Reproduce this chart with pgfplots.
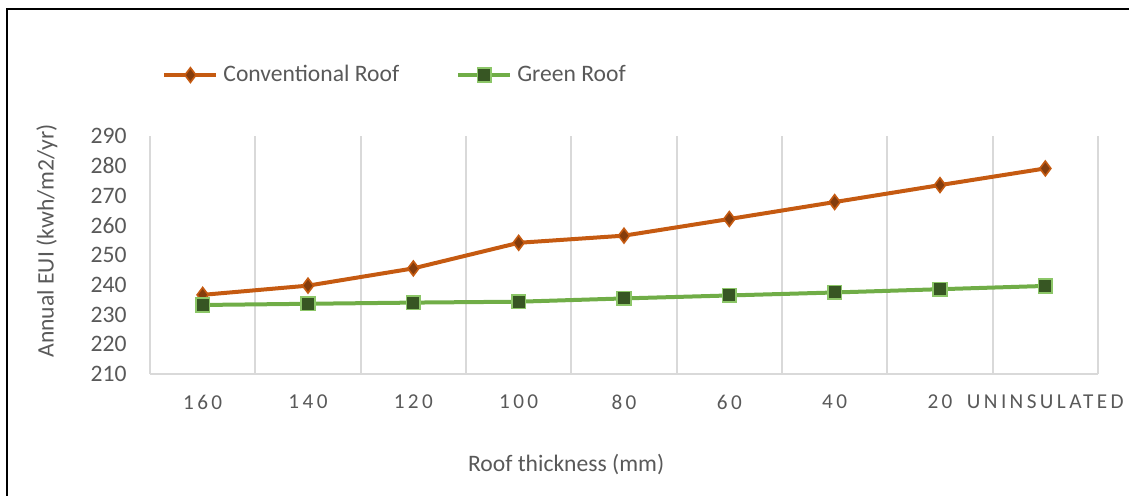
\documentclass[border=0pt]{standalone}
\usepackage{pgfplots}
\pgfplotsset{compat=1.18}
\usepackage{fontspec}
\setmainfont{Carlito}
\newfontfamily\spacedfont[LetterSpace=16]{Carlito}

\definecolor{txtgray}{HTML}{595959}
\definecolor{gridgray}{HTML}{D9D9D9}
\definecolor{convline}{HTML}{C55A11}
\definecolor{convmark}{HTML}{843C0C}
\definecolor{greenline}{HTML}{70AD47}
\definecolor{greenmark}{HTML}{375623}
\definecolor{greenedge}{HTML}{8CC668}

\begin{document}
\begin{tikzpicture}
\useasboundingbox (0,0) rectangle (564.5pt,248pt);
% chart-area frame (left and top edges)
\draw[black, line width=1pt] (3.25pt,0pt) -- (3.25pt,243.25pt) -- (564.5pt,243.25pt);

\begin{axis}[
  at={(75pt,61pt)}, anchor=south west,
  scale only axis,
  width=474pt, height=119pt,
  xmin=-0.5, xmax=8.5,
  ymin=210, ymax=290,
  ytick={210,220,...,290},
  xtick={0,...,8},
  xticklabels={160,140,120,100,80,60,40,20,UNINSULATED},
  minor xtick={-0.5,0.5,...,8.5},
  xminorgrids,
  minor grid style={draw=gridgray, line width=0.9pt},
  axis x line*=bottom,
  axis y line*=left,
  axis line style={draw=gridgray, line width=0.9pt, -},
  major tick length=0pt,
  minor tick length=0pt,
  tick style={draw=none},
  /pgf/number format/assume math mode=true,
  yticklabel style={font=\fontsize{11.8}{14}\selectfont, text=txtgray, inner sep=0pt, anchor=east, xshift=-11.5pt},
  xticklabel style={font=\fontsize{10.6}{13}\selectfont\spacedfont, text=txtgray, anchor=center, yshift=-14pt, inner sep=0pt},
  ylabel={Annual EUI (kwh/m2/yr)},
  ylabel style={font=\fontsize{11.8}{14}\selectfont, text=txtgray, at={(rel axis cs:-0.1087,0.559)}, anchor=center, rotate=0},
  xlabel={Roof thickness (mm)},
  xlabel style={font=\fontsize{11.8}{14}\selectfont, text=txtgray, at={(rel axis cs:0.439,-0.382)}, anchor=center},
  legend columns=2,
  legend style={
    at={(rel axis cs:0.0127,1.256)}, anchor=west,
    draw=none, fill=none, inner sep=0pt,
    font=\fontsize{11.8}{14}\selectfont, text=txtgray,
    nodes={inner xsep=2.5pt, inner ysep=0pt},
    /tikz/every even column/.append style={column sep=26pt},
  },
  legend image code/.code={
    \draw[mark repeat=2, mark phase=2] plot coordinates {(0pt,0pt) (13pt,0pt) (26pt,0pt)};
  },
]
\addplot[convline, line width=2pt, mark=diamond*, mark size=3.7pt,
  mark options={solid, fill=convmark, draw=convline, line width=0.8pt}]
  coordinates {
  (0,236.6) (1,239.7) (2,245.5) (3,254.1) (4,256.5)
  (5,262.1) (6,267.8) (7,273.5) (8,279.1)
};
\addlegendentry{Conventional Roof}
\addplot[greenline, line width=2pt, mark=square*, mark size=3.4pt,
  mark options={solid, fill=greenmark, draw=greenedge, line width=0.8pt}]
  coordinates {
  (0,233.2) (1,233.6) (2,234.0) (3,234.3) (4,235.4)
  (5,236.4) (6,237.4) (7,238.5) (8,239.6)
};
\addlegendentry{Green Roof}
\end{axis}
\end{tikzpicture}
\end{document}
